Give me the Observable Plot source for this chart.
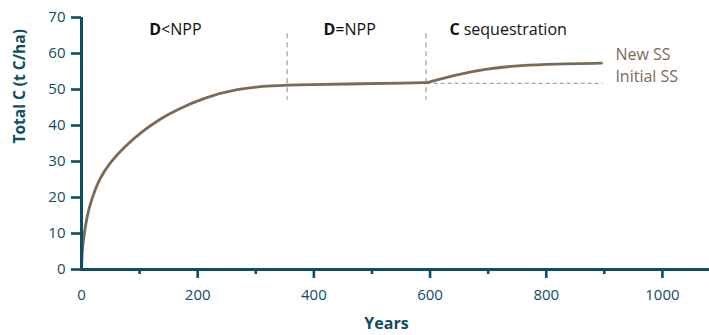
<!DOCTYPE html>
<html>
<head>
<meta charset="utf-8">
<script src="https://cdn.jsdelivr.net/npm/d3@7"></script>
<script src="https://cdn.jsdelivr.net/npm/@observablehq/plot@0.6"></script>
<style>
  html, body { margin: 0; padding: 0; background: #fff; }
  #chart svg { display: block; }
</style>
</head>
<body>
<div id="chart"></div>
<script>
// Curve values: build-up phase and sequestration phase
const years1  = [0, 1, 3, 9, 17, 31, 49, 77, 106, 135, 163, 210, 268, 325, 394, 480, 560, 595];
const totalC1 = [0, 4.4, 8.1, 14.5, 19.5, 25.3, 29.8, 34.6, 38.6, 41.8, 44.3, 47.7, 50.2, 51.1, 51.35, 51.6, 51.8, 51.9];
const years2  = [595, 641, 698, 756, 813, 895];
const totalC2 = [51.9, 54.0, 55.8, 56.7, 57.1, 57.3];

const xMajorTicks = [0, 200, 400, 600, 800, 1000];
const xMinorTicks = [100, 300, 500, 700, 900];
const yTicks = [0, 10, 20, 30, 40, 50, 60, 70];

// Phase boundaries (years) and their dashed extent (t C/ha)
const phaseBounds = [354, 593];
const phaseTop = 65.5, phaseBottom = 47;

// Initial steady state
const initialSS = 51.7;
const initialSSFrom = 595, initialSSTo = 898;

// Phase labels: bold part + regular part, split at year position
const phaseBold = ["D", "D", "C"];
const phaseRest = ["<NPP", "=NPP", "sequestration"];
const phaseSplit = [137, 437, 651];
const phaseY = 66.5;

// Steady-state labels
const ssLabels = ["New SS", "Initial SS"];
const ssLabelY = [59.5, 53.4];
const ssLabelX = 919;

const data = [
  ...years1.map((y, i) => ({year: y, c: totalC1[i], seg: 1})),
  ...years2.map((y, i) => ({year: y, c: totalC2[i], seg: 2}))
];
const teal = "#0d4d66";
const brown = "#7b6a58";
const dash = "#aaa39c";
const font = "'Open Sans', sans-serif";

const chart = Plot.plot({
  width: 709,
  height: 335,
  marginLeft: 81,
  marginRight: 0,
  marginTop: 17,
  marginBottom: 66,
  style: {fontFamily: font, background: "#fff"},
  x: {domain: [0, 1081]},
  y: {domain: [0, 70]},
  marks: [
    // dashed phase boundaries
    Plot.ruleX(phaseBounds, {y1: phaseTop, y2: phaseBottom, stroke: dash, strokeWidth: 1.3, strokeDasharray: "5,4"}),
    Plot.ruleY([initialSS], {x1: initialSSFrom, x2: initialSSTo, stroke: dash, strokeWidth: 1.3, strokeDasharray: "4,3"}),
    // curve
    Plot.line(data, {x: "year", y: "c", z: "seg", stroke: brown, strokeWidth: 2.8, curve: "basis"}),
    // y axis
    Plot.axisY({ticks: yTicks, tickSize: 10, tickPadding: 6, fontSize: 15, fill: teal, stroke: teal, strokeWidth: 2.6, label: null}),
    // x axis ticks
    Plot.axisX({ticks: xMajorTicks.slice(1), tickSize: 9, tickFormat: () => "", stroke: teal, strokeWidth: 2.6, label: null}),
    Plot.axisX({ticks: xMinorTicks, tickSize: 5, tickFormat: () => "", stroke: teal, strokeWidth: 2.6, label: null}),
    Plot.axisX({ticks: xMajorTicks, tickSize: 0, tickPadding: 20, tickFormat: d => String(d), fontSize: 15, fill: teal, label: null}),
    // axis lines
    Plot.ruleX([0], {stroke: teal, strokeWidth: 3}),
    Plot.ruleY([0], {stroke: teal, strokeWidth: 3}),
    // axis titles
    Plot.text(["Total C (t C/ha)"], {frameAnchor: "left", rotate: -90, dx: -61, fontSize: 15.5, fontWeight: "bold", fill: teal}),
    Plot.text(["Years"], {x: 525, frameAnchor: "bottom", dy: 59, fontSize: 16, fontWeight: "bold", fill: teal}),
    // phase labels
    Plot.text(phaseBold, {x: (d, i) => phaseSplit[i], y: phaseY, text: d => d, textAnchor: "end", fontSize: 16, fontWeight: "bold", fill: "#111"}),
    Plot.text(phaseRest, {x: (d, i) => phaseSplit[i], y: phaseY, text: d => d, textAnchor: "start", fontSize: 16, fill: "#111"}),
    // SS labels
    Plot.text(ssLabels, {x: ssLabelX, y: (d, i) => ssLabelY[i], text: d => d, textAnchor: "start", fontSize: 16, fill: brown})
  ]
});

// small gap for "C sequestration"
d3.select(chart).selectAll("text").filter(function() { return this.textContent === "sequestration"; }).attr("dx", 4);

document.getElementById("chart").appendChild(chart);
</script>
</body>
</html>
